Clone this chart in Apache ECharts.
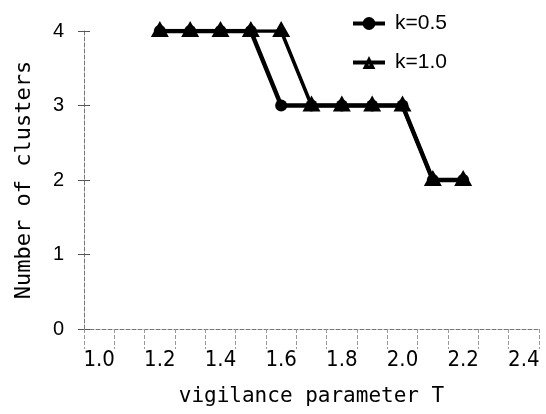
<!DOCTYPE html>
<html>
<head>
<meta charset="utf-8">
<script src="https://cdn.jsdelivr.net/npm/echarts@6/dist/echarts.min.js"></script>
<style>html,body{margin:0;padding:0;background:#fff;}#c{width:546px;height:414px;}</style>
</head>
<body>
<div id="c"></div>
<script>
// Tick label values on the x axis
const xLabels = [1.0, 1.2, 1.4, 1.6, 1.8, 2.0, 2.2, 2.4];
// Minor tick marks (between the sampled values)
const xTicks = [0.95, 1.05, 1.15, 1.25, 1.35, 1.45, 1.55, 1.65, 1.75, 1.85, 1.95, 2.05, 2.15, 2.25, 2.35, 2.45];
// Vigilance parameter values of the points
const tValues = [1.2, 1.3, 1.4, 1.5, 1.6, 1.7, 1.8, 1.9, 2.0, 2.1, 2.2];
// Number of clusters
const k05 = [4, 4, 4, 4, 3, 3, 3, 3, 3, 2, 2];
const k10 = [4, 4, 4, 4, 4, 3, 3, 3, 3, 2, 2];

const chart = echarts.init(document.getElementById('c'), null, {renderer: 'canvas'});
const pairs = (xs, ys) => xs.map((x, i) => [x, ys[i]]);
const triPath = 'path://M0,12 L7,0 L14,12 Z M6,8.6 L8,8.6 L7,6.8 Z';

chart.setOption({
  backgroundColor: '#fff',
  animation: false,
  grid: {left: 84, right: 7, top: 31, bottom: 85, containLabel: false},
  legend: {
    orient: 'vertical', left: 346, top: 8, itemGap: 18,
    itemWidth: 32, itemHeight: 16,
    lineStyle: {width: 4},
    textStyle: {fontFamily: 'Liberation Sans', fontSize: 21, color: '#000', padding: [0, 0, 0, 5]},
    data: ['k=0.5', 'k=1.0']
  },
  xAxis: {
    type: 'value', min: 0.95, max: 2.45,
    name: 'vigilance parameter T', nameLocation: 'middle', nameGap: 57,
    nameTextStyle: {fontFamily: 'DejaVu Sans Mono', fontSize: 21, color: '#000'},
    axisLine: {lineStyle: {color: '#777', width: 1, type: 'dashed'}},
    axisTick: {show: true, customValues: xTicks, length: 20, inside: false,
               lineStyle: {color: '#999', width: 1, type: 'dashed'}},
    axisLabel: {customValues: xLabels, margin: 20, color: '#000',
                formatter: v => Number(v).toFixed(1),
                fontFamily: 'Liberation Sans Narrow, DejaVu Sans Condensed, sans-serif', fontSize: 22},
    splitLine: {show: false}
  },
  yAxis: [{
    type: 'value', min: 0, max: 4, interval: 1,
    name: 'Number of clusters', nameLocation: 'middle', nameGap: 49, nameRotate: 90,
    nameTextStyle: {fontFamily: 'DejaVu Sans Mono', fontSize: 22, color: '#000'},
    axisLine: {show: true, lineStyle: {color: '#777', width: 1, type: 'dashed'}},
    axisTick: {show: true, length: 6, lineStyle: {color: '#555', width: 1}},
    axisLabel: {margin: 20, color: '#000', fontFamily: 'Liberation Sans', fontSize: 20},
    splitLine: {show: false}
  }, {
    type: 'value', min: 0, max: 4, interval: 1, position: 'left',
    axisLine: {show: false},
    axisTick: {show: true, inside: true, length: 6, lineStyle: {color: '#555', width: 1}},
    axisLabel: {show: false},
    splitLine: {show: false}
  }],
  series: [{
    name: 'k=0.5', type: 'line', yAxisIndex: 0,
    data: pairs(tValues, k05),
    symbol: 'circle', symbolSize: 12,
    lineStyle: {color: '#000', width: 4.5},
    itemStyle: {color: '#000'},
    z: 2
  }, {
    name: 'k=1.0', type: 'line', yAxisIndex: 0,
    data: pairs(tValues, k10),
    symbol: triPath, symbolSize: [18, 16], symbolOffset: [0, -2],
    lineStyle: {color: '#000', width: 3.5},
    itemStyle: {color: '#000'},
    z: 3
  }]
});
</script>
</body>
</html>
